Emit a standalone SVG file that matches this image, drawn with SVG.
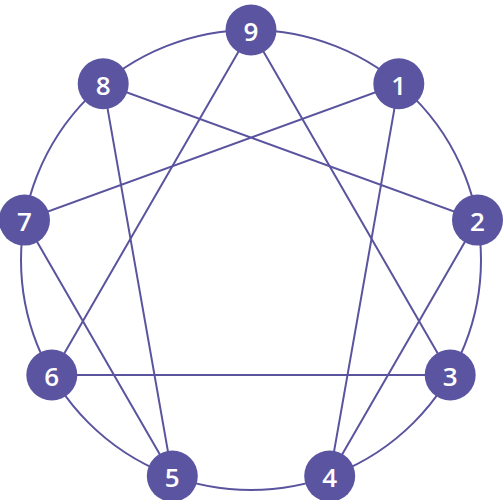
<svg xmlns="http://www.w3.org/2000/svg" width="503" height="500" viewBox="0 0 503 500">
<style>
.ln{stroke:#5a549f;stroke-width:2;fill:none}
.nd{fill:#5b55a1}
.lb{fill:#fff;font-family:"Open Sans","DejaVu Sans",sans-serif;font-weight:600;font-size:26px;text-anchor:middle;dominant-baseline:central}
</style>
<rect width="503" height="500" fill="#fff"/>
<g id="connectors">
<circle class="ln" cx="251" cy="260" r="230"/>
<polygon class="ln" points="251,30 450.2,375 51.8,375"/>
<polygon class="ln" points="398.8,83.8 329.7,476.1 477.5,220.1 103.2,83.8 172.3,476.1 24.5,220.1"/>
</g>
<g id="n9"><circle class="nd" cx="251" cy="30" r="25.5"/><text class="lb" x="251" y="31">9</text></g>
<g id="n1"><circle class="nd" cx="398.8" cy="83.8" r="25.5"/><text class="lb" x="398.8" y="84.8">1</text></g>
<g id="n2"><circle class="nd" cx="477.5" cy="220.1" r="25.5"/><text class="lb" x="477.5" y="221.1">2</text></g>
<g id="n3"><circle class="nd" cx="450.2" cy="375" r="25.5"/><text class="lb" x="450.2" y="376">3</text></g>
<g id="n4"><circle class="nd" cx="329.7" cy="476.1" r="25.5"/><text class="lb" x="329.7" y="477.1">4</text></g>
<g id="n5"><circle class="nd" cx="172.3" cy="476.1" r="25.5"/><text class="lb" x="172.3" y="477.1">5</text></g>
<g id="n6"><circle class="nd" cx="51.8" cy="375" r="25.5"/><text class="lb" x="51.8" y="376">6</text></g>
<g id="n7"><circle class="nd" cx="24.5" cy="220.1" r="25.5"/><text class="lb" x="24.5" y="221.1">7</text></g>
<g id="n8"><circle class="nd" cx="103.2" cy="83.8" r="25.5"/><text class="lb" x="103.2" y="84.8">8</text></g>
</svg>
